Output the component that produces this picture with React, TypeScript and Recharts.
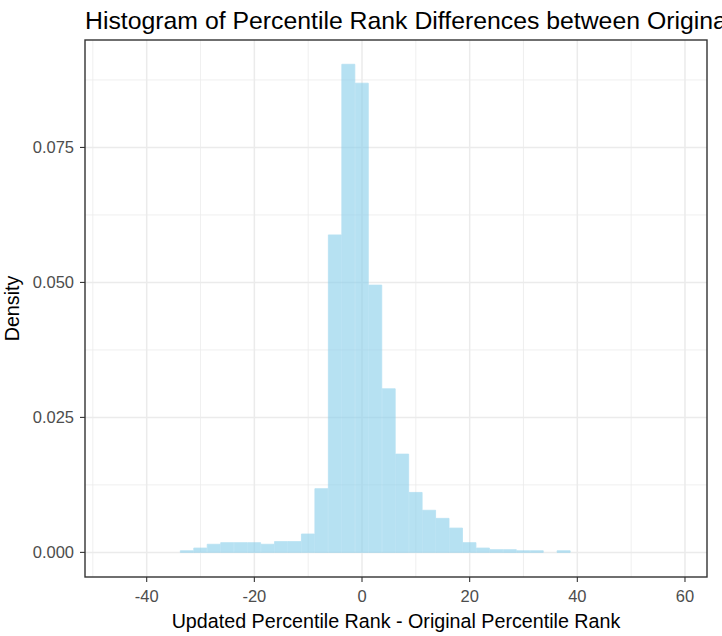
import { ComposedChart, Bar, XAxis, YAxis, CartesianGrid } from 'recharts';

// histogram bins (binwidth 2.5), density
const binCenters = [
  -32.5, -30, -27.5, -25, -22.5, -20, -17.5, -15, -12.5, -10, -7.5, -5, -2.5, 0, 2.5, 5, 7.5, 10, 12.5, 15,
  17.5, 20, 22.5, 25, 27.5, 30, 32.5, 35, 37.5,
];
const densities = [
  0.0003, 0.0008, 0.0015, 0.0018, 0.0018, 0.0018, 0.0015, 0.002, 0.002, 0.0034, 0.0118, 0.0588, 0.0904, 0.0869,
  0.0495, 0.0303, 0.0182, 0.0111, 0.0078, 0.0063, 0.0045, 0.0018, 0.0008, 0.0005, 0.0005, 0.0003, 0.0003, 0,
  0.0003,
];

const xTicks = [-40, -20, 0, 20, 40, 60];
const xMinor = [-50, -30, -10, 10, 30, 50];
const yTicks = [0, 0.025, 0.05, 0.075];
const yMinor = [0.0125, 0.0375, 0.0625, 0.0875];

// the title runs past the right edge in the original, so it is clipped there too
const title = 'Histogram of Percentile Rank Differences between Original and Updated Percentile Ranks';
const xTitle = 'Updated Percentile Rank - Original Percentile Rank';
const yTitle = 'Density';

const data = binCenters.map((x, i) => ({ x, density: densities[i] }));

const FONT = '"Liberation Sans", Arial, sans-serif';
const W = 722;
const H = 636;
const plot = { left: 85, top: 40, right: 707, bottom: 577 };

export default function App() {
  const tickStyle = { fontSize: 16.5, fill: '#4D4D4D', fontFamily: FONT };

  return (
    <div style={{ position: 'absolute', left: 0, top: 0, width: W, height: H, overflow: 'hidden', background: '#fff' }}>
      {/* alpha on the whole bar group so neighbouring bars don't leave seams */}
      <style>{'.hist-bars .recharts-bar-rectangles { opacity: 0.6; }'}</style>
      <ComposedChart
        width={W}
        height={H}
        data={data}
        margin={{ top: plot.top, right: W - plot.right, bottom: 0, left: 0 }}
        barCategoryGap={0}
        barGap={0}
      >
        <CartesianGrid stroke="#EBEBEB" strokeWidth={0.8} horizontalValues={yMinor} verticalValues={xMinor} />
        <CartesianGrid stroke="#EBEBEB" strokeWidth={1.5} horizontalValues={yTicks} verticalValues={xTicks} />
        <XAxis
          dataKey="x"
          type="number"
          domain={[-51.46, 64.09]}
          ticks={xTicks}
          allowDataOverflow
          height={H - plot.bottom}
          axisLine={false}
          tickLine={{ stroke: '#333333', strokeWidth: 1.1 }}
          tickSize={5}
          tickMargin={8}
          tick={tickStyle}
        />
        <YAxis
          type="number"
          domain={[-0.00456, 0.0949]}
          ticks={yTicks}
          allowDataOverflow
          width={plot.left}
          axisLine={false}
          tickLine={{ stroke: '#333333', strokeWidth: 1.1 }}
          tickSize={5}
          tickMargin={6}
          tick={tickStyle}
          tickFormatter={(v: number) => v.toFixed(3)}
        />
        <Bar
          className="hist-bars"
          dataKey="density"
          fill="#87CEEB"
          stroke="#87CEEB"
          strokeWidth={0.8}
          isAnimationActive={false}
        />
      </ComposedChart>

      <svg
        width={W}
        height={H}
        style={{ position: 'absolute', left: 0, top: 0, pointerEvents: 'none' }}
        fontFamily={FONT}
      >
        <rect
          x={plot.left}
          y={plot.top}
          width={plot.right - plot.left}
          height={plot.bottom - plot.top}
          fill="none"
          stroke="#333333"
          strokeWidth={1.4}
        />
        <text x={plot.left} y={28.5} fontSize={24.8} fill="#000">
          {title}
        </text>
        <text x={(plot.left + plot.right) / 2} y={628} fontSize={19.7} fill="#000" textAnchor="middle">
          {xTitle}
        </text>
        <text
          x={0}
          y={0}
          fontSize={19.7}
          fill="#000"
          textAnchor="middle"
          transform={`translate(19, ${(plot.top + plot.bottom) / 2}) rotate(-90)`}
        >
          {yTitle}
        </text>
      </svg>
    </div>
  );
}
